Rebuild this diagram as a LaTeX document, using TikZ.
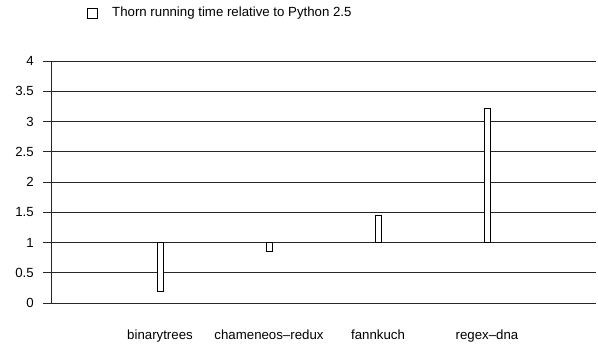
\documentclass[tikz,border=0pt]{standalone}
\usepackage{fontspec}
\setmainfont{Liberation Sans}
\begin{document}
\begin{tikzpicture}[x=1bp,y=-1bp,
  grid/.style={line width=0.9bp,black!85},
  barbox/.style={draw=black,fill=white,line width=0.8bp},
  ticklbl/.style={anchor=east,inner sep=0pt,font=\fontsize{13.3}{15}\selectfont},
  catlbl/.style={anchor=base,inner sep=0pt,font=\fontsize{13.3}{15}\selectfont},
  legtxt/.style={anchor=west,inner sep=0pt,font=\fontsize{13.3}{15}\selectfont}]
\useasboundingbox (0,0) rectangle (598,347);
% legend
\node[draw=black,line width=0.8bp,minimum width=10bp,minimum height=10bp,inner sep=0pt] (legbox) at (92.3,13.5) {};
\node[legtxt] (legtext) at (112,13.5) {Thorn running time relative to Python 2.5};
% grid and ticks
\foreach \v/\l in {0/0,0.5/0.5,1/1,1.5/1.5,2/2,2.5/2.5,3/3,3.5/3.5,4/4}{
  \pgfmathsetmacro{\yy}{303-60.5*\v}
  \draw[grid] (43,\yy) -- (596,\yy);
  \node[ticklbl] at (34,\yy) {\l};
}
\draw[grid] (51,61) -- (51,303);
% bars (value range from 1 to value)
\pgfmathsetmacro{\yone}{303-60.5}
\draw[barbox] (157,\yone) rectangle (163,{303-60.5*0.19});
\draw[barbox] (266,\yone) rectangle (272,{303-60.5*0.85});
\draw[barbox] (375,\yone) rectangle (381,{303-60.5*1.45});
\draw[barbox] (484,\yone) rectangle (490,{303-60.5*3.22});
% category labels
\node[catlbl] (c1) at (160,339) {binarytrees};
\node[catlbl] (c2) at (269,339) {chameneos\textendash redux};
\node[catlbl] (c3) at (378,339) {fannkuch};
\node[catlbl] (c4) at (487,339) {regex\textendash dna};
\end{tikzpicture}
\end{document}
